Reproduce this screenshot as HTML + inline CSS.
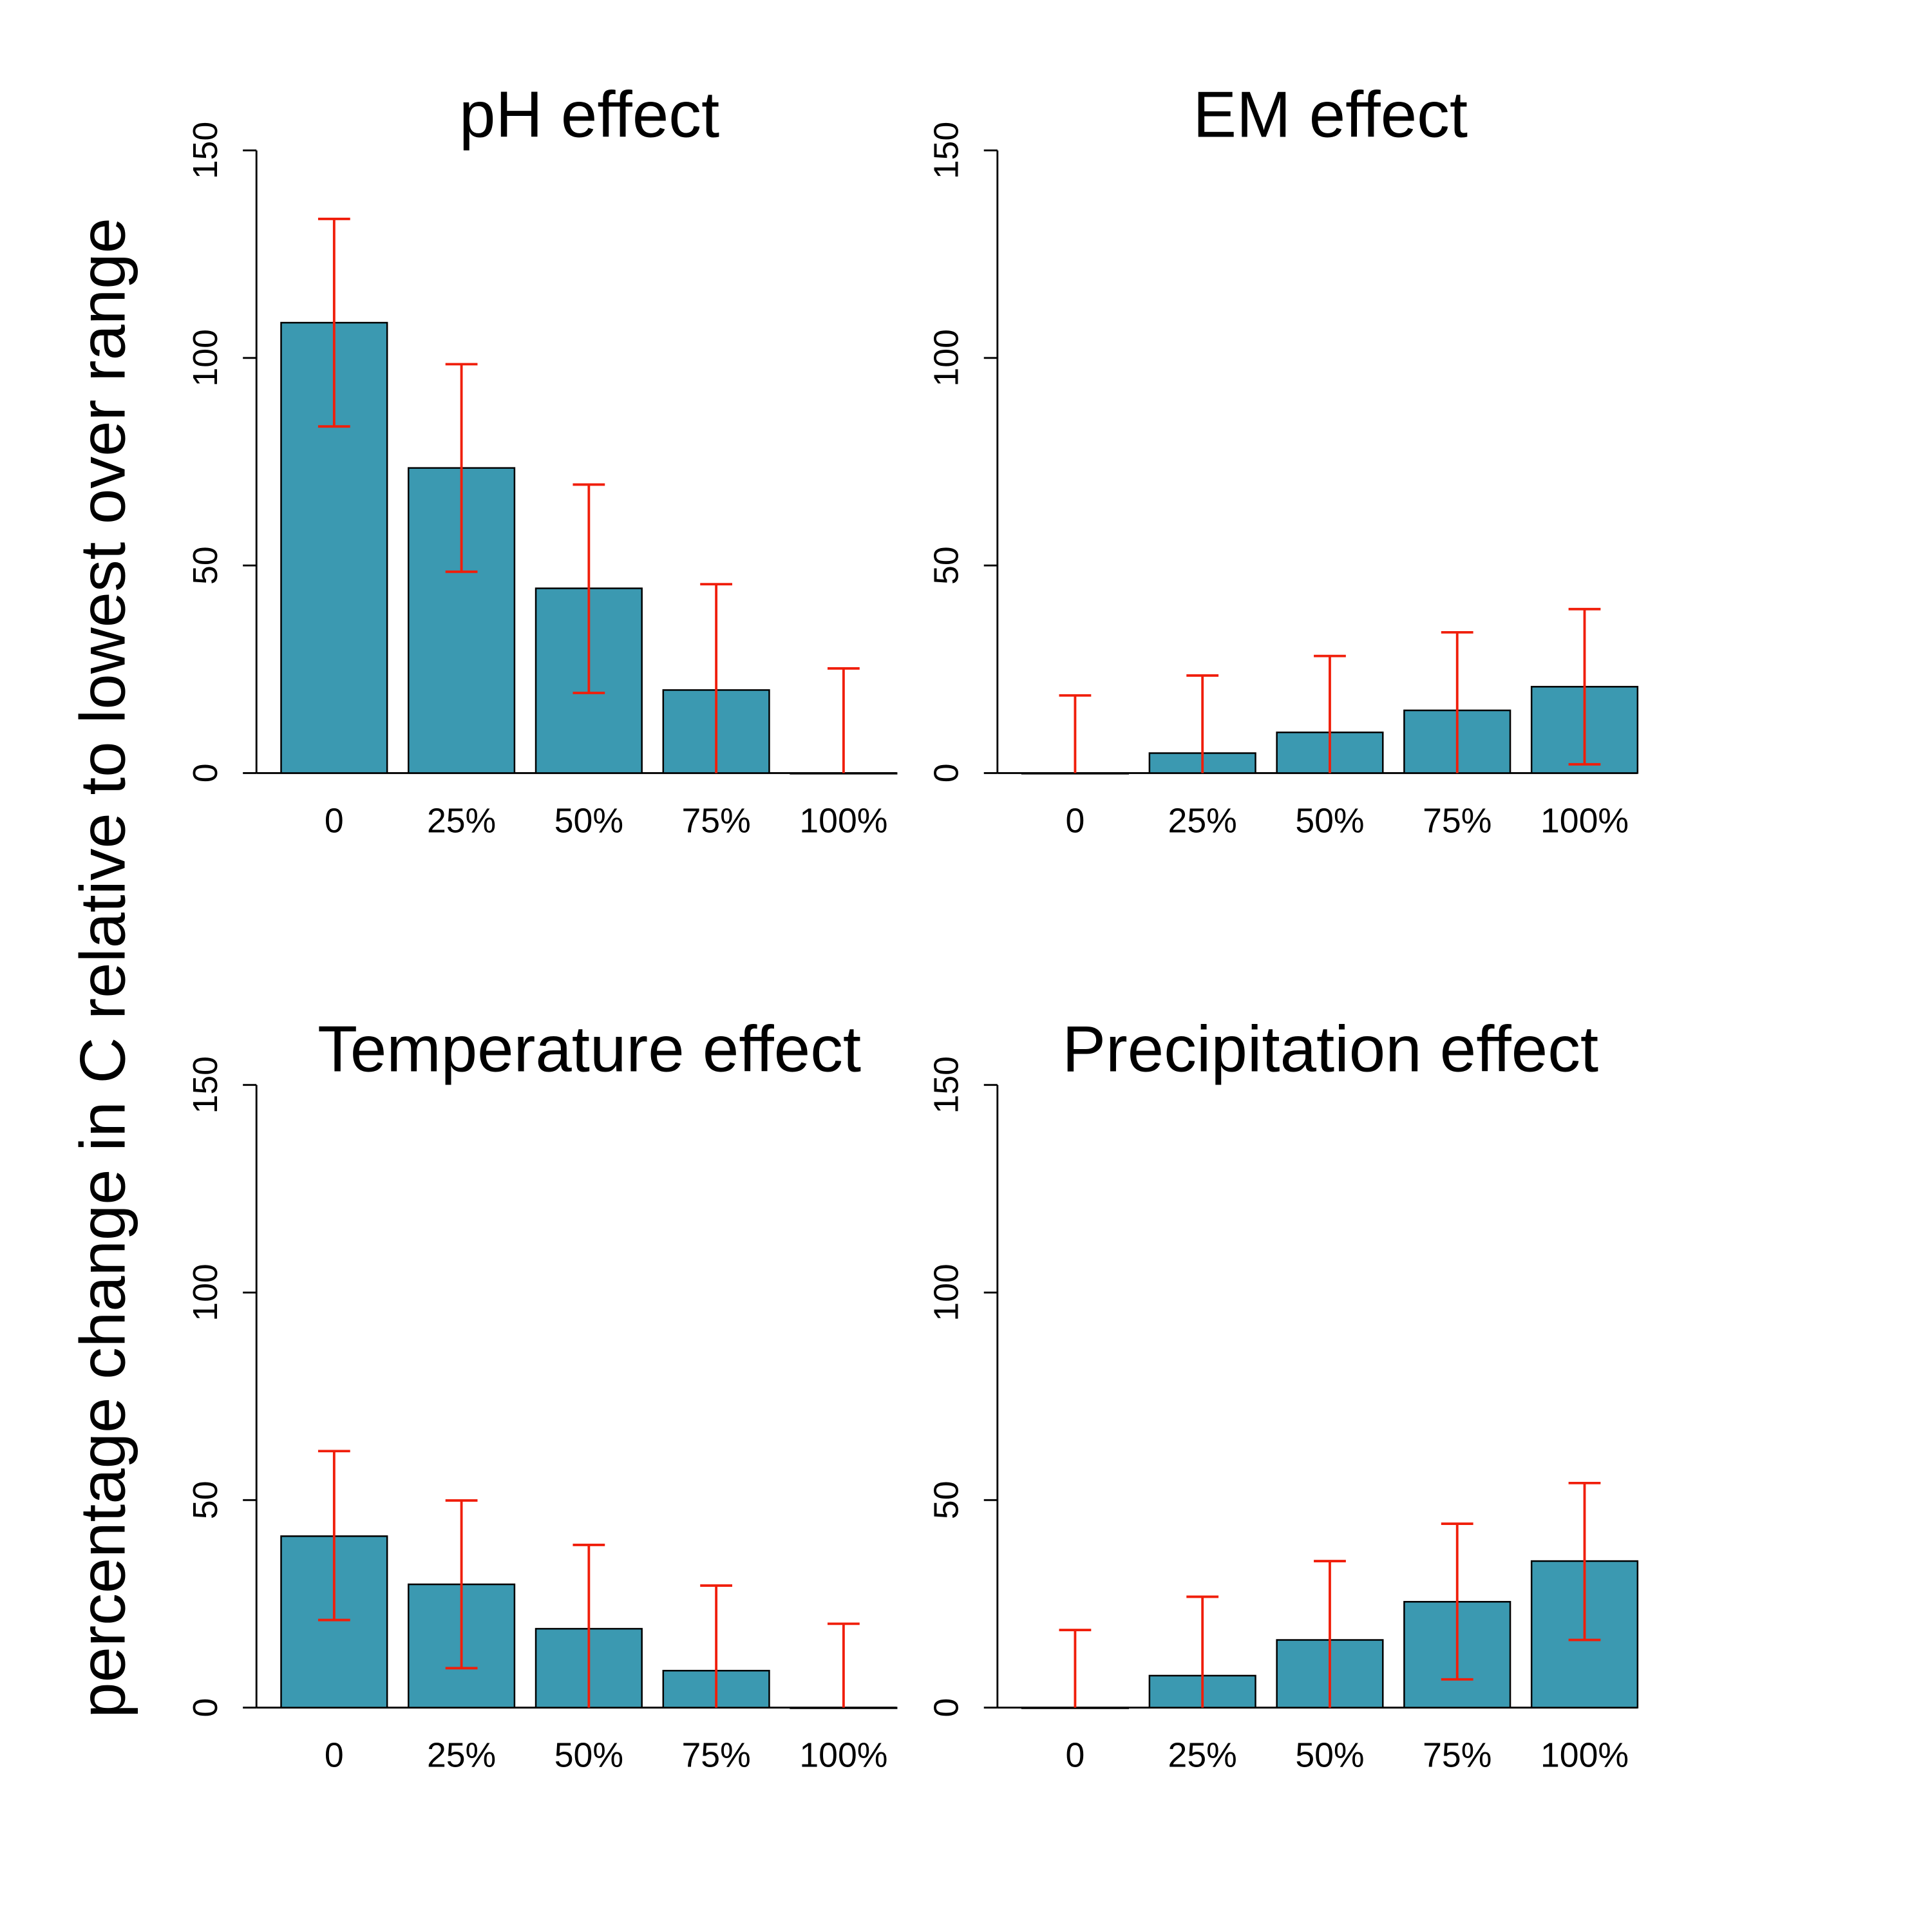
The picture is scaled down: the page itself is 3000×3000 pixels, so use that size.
<!DOCTYPE html>
<html><head><meta charset="utf-8"><style>html,body{margin:0;padding:0;background:#fff}svg{display:block}</style></head>
<body>
<svg id="chart" width="3000" height="3000" viewBox="0 0 1567 1567" xmlns="http://www.w3.org/2000/svg" font-family="Liberation Sans, sans-serif">
<rect width="1567" height="1567" fill="#fff"/>
<text transform="translate(101,785) rotate(-90)" text-anchor="middle" font-size="52">percentage change in C relative to lowest over range</text>
</svg>
<script>
const categories = ["0","25%","50%","75%","100%"];
const titles = ["pH effect","EM effect","Temperature effect","Precipitation effect"];
const phValues = [108.5,73.5,44.5,20,0];
const phUpper = [133.5,98.5,69.5,45.5,25.2];
const phLower = [83.5,48.5,19.3,0,0];
const emValues = [0,4.8,9.8,15.1,20.8];
const emUpper = [18.7,23.5,28.2,33.9,39.5];
const emLower = [0,0,0,0,2.1];
const tempValues = [41.3,29.7,19.0,8.9,0];
const tempUpper = [61.8,49.9,39.2,29.4,20.2];
const tempLower = [21.1,9.5,0,0,0];
const precValues = [0,7.7,16.3,25.5,35.3];
const precUpper = [18.7,26.7,35.3,44.3,54.1];
const precLower = [0,0,0,6.8,16.3];
const yTicks = [0,50,100,150];

const NS="http://www.w3.org/2000/svg";
const svg=document.getElementById('chart');
function mk(tag,attrs,parent){const e=document.createElementNS(NS,tag);for(const k in attrs)e.setAttribute(k,attrs[k]);(parent||svg).appendChild(e);return e;}
const panels=[
 {ox:208,base:627,vals:phValues,up:phUpper,lo:phLower,name:'ph'},
 {ox:809,base:627,vals:emValues,up:emUpper,lo:emLower,name:'em'},
 {ox:208,base:1385,vals:tempValues,up:tempUpper,lo:tempLower,name:'temperature'},
 {ox:809,base:1385,vals:precValues,up:precUpper,lo:precLower,name:'precipitation'}];
panels.forEach((p,pi)=>{
  const g=mk('g',{});
  
  
  const ys=v=>p.base-v*(505/150);
  const xs=i=>p.ox+63+i*103.3;
  const t=mk('text',{x:p.ox+270,y:p.base-516,'text-anchor':'middle','font-size':53},g);
  t.textContent=titles[pi];
  
  
  const ax=mk('line',{x1:p.ox,x2:p.ox,y1:ys(0),y2:ys(150),stroke:'#000','stroke-width':1.5},g);
  
  
  yTicks.forEach(v=>{
    mk('line',{x1:p.ox-11,x2:p.ox,y1:ys(v),y2:ys(v),stroke:'#000','stroke-width':1.5},g);
    const tl=mk('text',{transform:`translate(${p.ox-32},${ys(v)}) rotate(-90)`,'text-anchor':'middle','font-size':28},g);
    tl.textContent=v;
    
    
  });
  mk('line',{x1:p.ox,x2:p.ox+519,y1:p.base,y2:p.base,stroke:'#000','stroke-width':1.5},g);
  p.vals.forEach((v,i)=>{
    const cx=xs(i);
    const b=mk('rect',{x:cx-43,y:ys(v),width:86,height:Math.max(ys(0)-ys(v),0.5),fill:'#3B99B1',stroke:'#000','stroke-width':1.3},g);
    
    
    const e=mk('g',{stroke:'#F01E0A','stroke-width':2},g);
    
    
    mk('line',{x1:cx,x2:cx,y1:ys(p.up[i]),y2:ys(p.lo[i])},e);
    mk('line',{x1:cx-13,x2:cx+13,y1:ys(p.up[i]),y2:ys(p.up[i])},e);
    if(p.lo[i]>0) mk('line',{x1:cx-13,x2:cx+13,y1:ys(p.lo[i]),y2:ys(p.lo[i])},e);
    const xl=mk('text',{x:cx,y:p.base+48,'text-anchor':'middle','font-size':28},g);
    xl.textContent=categories[i];
    
    
  });
});
</script>
</body></html>
